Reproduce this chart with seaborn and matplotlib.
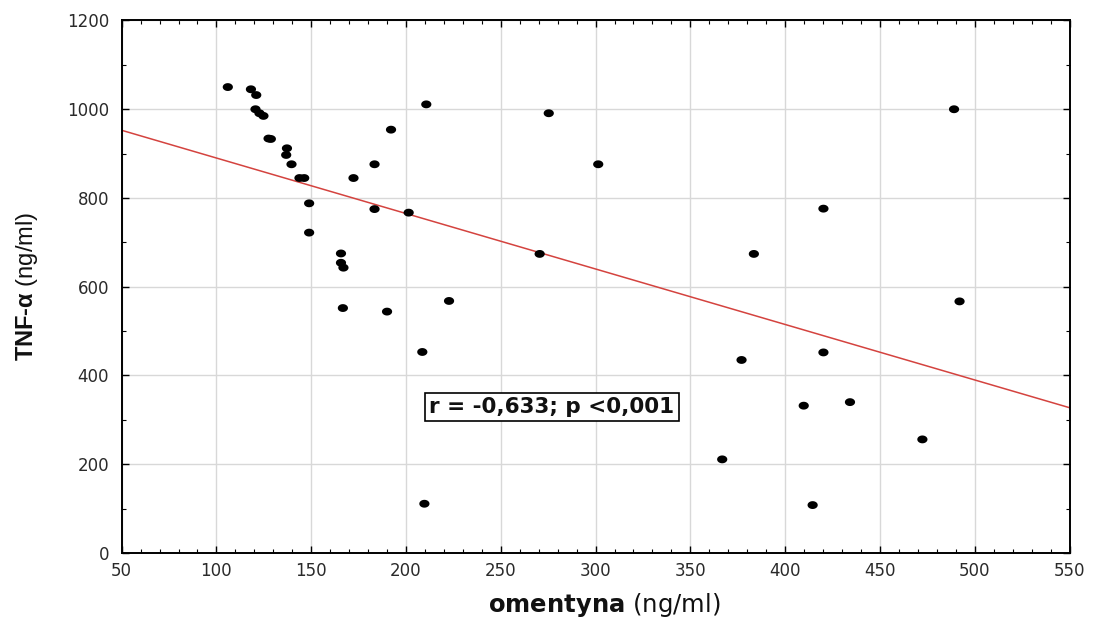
import numpy as np
import pandas as pd
import seaborn as sns
import matplotlib
matplotlib.use("Agg")
import matplotlib.pyplot as plt
from matplotlib.ticker import MultipleLocator
from matplotlib.path import Path

# Data
omentyna = [106.0, 118.2, 121.0, 120.6, 122.7, 124.8, 127.5, 128.7, 137.2, 136.8,
            139.6, 143.8, 146.3, 148.9, 148.9, 165.7, 165.7, 167.0, 166.7, 172.3,
            183.4, 183.4, 190.0, 192.1, 201.4, 208.6, 209.7, 210.7, 222.7, 270.5,
            275.3, 301.4, 366.8, 377.0, 383.5, 409.8, 414.5, 420.2, 420.2, 434.2,
            472.4, 489.1, 492.0]
tnf_alpha = [1050, 1045, 1032, 1000, 991, 985, 934, 933, 912, 897,
             876, 845, 845, 788, 722, 675, 654, 643, 552, 845,
             876, 775, 544, 954, 767, 453, 111, 1011, 568, 674,
             991, 876, 211, 435, 674, 332, 108, 776, 452, 340,
             256, 1000, 567]
annotation_text = "r = -0,633; p <0,001"
x_ticks = list(range(50, 551, 50))
y_ticks = list(range(0, 1201, 200))

df = pd.DataFrame({"omentyna": omentyna, "tnf": tnf_alpha})

sns.set_theme(style="whitegrid")
plt.rcParams["font.family"] = ["DejaVu Sans"]
plt.rcParams["mathtext.fontset"] = "custom"
plt.rcParams["mathtext.rm"] = "Liberation Sans"
plt.rcParams["mathtext.bf"] = "Liberation Sans:bold"
plt.rcParams["mathtext.it"] = "Liberation Sans:italic"

# slightly wide elliptical dot marker
t = np.linspace(0, 2 * np.pi, 40)
ell = Path(np.column_stack([1.3 * np.cos(t), np.sin(t)]), closed=True)

fig = plt.figure(figsize=(10.93, 6.21), dpi=100)
ax = fig.add_axes([0.1113, 0.1095, 0.8672, 0.8575])
ax.set_xlim(50, 550)
ax.set_ylim(0, 1200)

sns.regplot(data=df, x="omentyna", y="tnf", ax=ax, scatter=False, ci=None,
            truncate=False, line_kws=dict(color="#d4433f", lw=1.1, zorder=2))
sns.scatterplot(data=df, x="omentyna", y="tnf", ax=ax, color="black",
                marker=ell, s=54, edgecolor="none", zorder=3)

ax.set_xlim(50, 550)
ax.set_ylim(0, 1200)
ax.set_xticks(x_ticks)
ax.set_yticks(y_ticks)
ax.xaxis.set_minor_locator(MultipleLocator(10))
ax.yaxis.set_minor_locator(MultipleLocator(100))
ax.grid(True, which="major", color="#d8d8d8", lw=1.0)
ax.grid(False, which="minor")
ax.set_facecolor("white")
for sp in ax.spines.values():
    sp.set_color("black")
    sp.set_linewidth(1.4)
    sp.set_visible(True)
ax.tick_params(which="both", direction="in", top=True, right=True,
               bottom=True, left=True, colors="black", labelcolor="#2a2a2a")
ax.tick_params(which="major", length=5, width=1.0, labelsize=12)
ax.tick_params(axis="y", which="major", pad=9)
ax.tick_params(axis="x", which="major", pad=6.5)
ax.tick_params(which="minor", length=3, width=0.8)

ax.set_xlabel(r"$\mathbf{omentyna}$ (ng/ml)", fontsize=17.5,
              math_fontfamily="dejavusans", color="#111111")
ax.xaxis.set_label_coords(0.509, -0.072)
ax.set_ylabel("$\\mathbf{TNF\u2010\u03b1}$ (ng/ml)", fontsize=17,
              family="Liberation Sans", math_fontfamily="custom", color="#111111")
ax.yaxis.set_label_coords(-0.0861, 0.5)

ax.text(277, 329, annotation_text, ha="center", va="center", fontsize=15.5,
        fontweight="bold", color="#111111", zorder=5,
        bbox=dict(boxstyle="square,pad=0.2", facecolor="white",
                  edgecolor="black", lw=1.2))

fig.savefig("out.png", dpi=100, facecolor="white")
